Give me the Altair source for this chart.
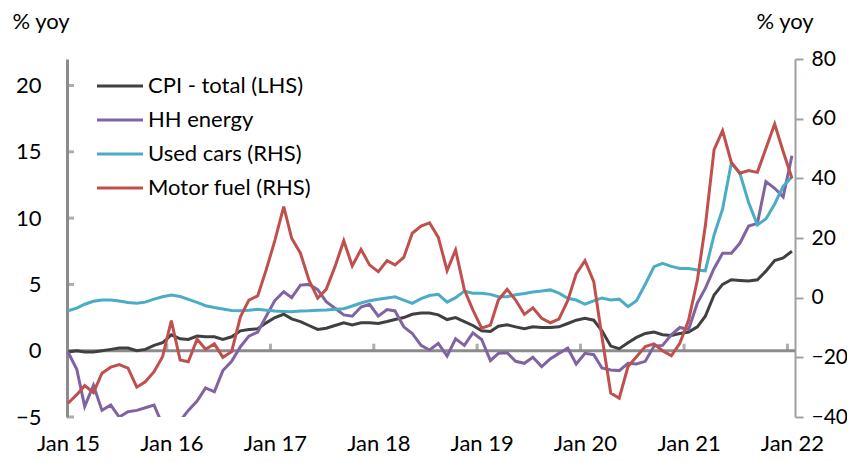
import altair as alt
import pandas as pd

# Monthly observations, Jan 2015 - Jan 2022
months = pd.date_range("2015-01-01", "2022-01-01", freq="MS").strftime("%Y-%m-%dT00:00:00").tolist()

cpi_total = [
    -0.1, 0.0, -0.1, -0.1, 0.0, 0.1, 0.2, 0.2, 0.0, 0.1, 0.4, 0.6,
    1.2, 0.9, 0.85, 1.1, 1.05, 1.05, 0.85, 1.05, 1.5, 1.6, 1.65, 2.1,
    2.5, 2.75, 2.4, 2.2, 1.9, 1.6, 1.7, 1.9, 2.1, 1.95, 2.1, 2.1,
    2.05, 2.2, 2.35, 2.5, 2.75, 2.85, 2.85, 2.7, 2.35, 2.5, 2.2, 1.9,
    1.5, 1.45, 1.85, 1.95, 1.8, 1.65, 1.8, 1.75, 1.75, 1.8, 2.05, 2.3,
    2.45, 2.3, 1.5, 0.35, 0.15, 0.6, 1.0, 1.3, 1.4, 1.2, 1.15, 1.3,
    1.4, 1.8, 2.6, 4.2, 5.0, 5.35, 5.3, 5.25, 5.35, 6.0, 6.8, 7.0,
    7.5,
]
hh_energy = [
    -0.1, -1.4, -4.2, -2.6, -4.5, -4.1, -5.0, -4.6, -4.5, -4.3, -4.1, -5.6,
    -7.0, -5.3, -4.5, -3.8, -2.8, -3.1, -1.5, -0.8, 0.3, 1.1, 1.4, 2.6,
    3.8, 4.45, 4.0, 4.95, 5.0, 4.6, 3.7, 3.2, 2.7, 2.6, 3.3, 3.5,
    2.6, 3.1, 3.0, 1.8, 1.3, 0.4, 0.05, 0.55, -0.4, 0.9, 0.4, 1.35,
    0.85, -0.75, -0.2, -0.15, -0.8, -0.95, -0.5, -1.2, -0.6, -0.2, 0.2, -1.0,
    -0.2, -0.3, -1.3, -1.45, -1.5, -0.95, -1.0, -0.8, 0.35, 0.4, 1.2, 1.75,
    1.6, 3.6, 4.7, 6.2, 7.35, 7.35, 8.1, 9.4, 9.6, 12.75, 12.25, 11.6,
    14.7,
]
used_cars = [
    -4.4, -3.5, -2.2, -1.2, -0.8, -0.8, -1.1, -1.6, -1.9, -1.5, -0.5, 0.3,
    0.9, 0.4, -0.6, -1.6, -2.7, -3.3, -3.8, -4.3, -4.4, -4.2, -3.9, -4.2,
    -4.5, -4.6, -4.7, -4.5, -4.4, -4.2, -4.1, -3.9, -3.7, -2.8, -1.8, -1.0,
    -0.5, -0.1, 0.3, -0.8, -1.9, -0.3, 0.7, 1.1, -1.5, 0.0, 2.2, 1.5,
    1.5, 1.1, 0.3, 0.3, 1.0, 1.4, 1.9, 2.2, 2.6, 1.5, -0.2, -0.8,
    -2.2, -1.1, -0.1, -0.8, -0.5, -3.0, -1.0, 4.5, 10.4, 11.5, 10.5, 9.8,
    9.8, 9.3, 9.0, 21.0, 29.7, 45.2, 41.7, 31.9, 24.4, 26.4, 31.4, 37.3,
    40.5,
]
motor_fuel = [
    -35.4, -32.5, -29.5, -31.8, -25.3, -23.3, -22.4, -23.6, -30.0, -28.2, -24.8, -19.8,
    -7.7, -20.9, -21.5, -13.9, -17.3, -15.5, -20.0, -18.1, -6.4, -0.8, 0.6, 9.3,
    19.3, 30.5, 19.9, 14.9, 5.9, -0.2, 2.8, 10.4, 19.1, 10.6, 16.2, 11.0,
    8.7, 12.4, 11.0, 13.5, 21.6, 24.0, 25.1, 20.2, 9.1, 16.0, 2.6, -4.1,
    -10.2, -9.2, -0.8, 2.8, -0.8, -5.6, -3.4, -6.9, -8.4, -7.2, -1.0, 8.0,
    12.4, 5.4, -13.2, -32.0, -33.7, -23.1, -19.8, -16.4, -15.5, -17.8, -19.5, -15.3,
    -7.5, 5.9, 24.0, 49.6, 56.0, 45.3, 41.7, 42.6, 42.0, 50.0, 58.2, 49.0,
    40.0,
]

series_names = ["CPI - total (LHS)", "HH energy", "Used cars (RHS)", "Motor fuel (RHS)"]
series_colors = ["#404040", "#8064a2", "#4bacc6", "#c0504d"]
left_ticks = [-5, 0, 5, 10, 15, 20]
right_ticks = [-40, -20, 0, 20, 40, 60, 80]
years = list(range(2015, 2023))
year_ticks = [f"{y}-01-01T00:00:00" for y in years[1:]]

FONT = "Lato"
AXIS_GRAY = "#8c8c8c"
AXIS_GRAY2 = "#a0a0a0"

x_scale = alt.Scale(domain=[alt.DateTime(year=2014, month=12, date=28, hours=12),
                            alt.DateTime(year=2022, month=1, date=11, hours=19)])
y_left_scale = alt.Scale(domain=[-5, 22], nice=False, zero=False)
y_right_scale = alt.Scale(domain=[-40, 80], nice=False, zero=False)

x_axis = alt.Axis(values=[alt.DateTime(year=y, month=1, date=1) for y in years],
                  format="%b %y", domain=False, ticks=False, grid=False,
                  labelFontSize=22, labelPadding=16, labelFlush=False,
                  labelOverlap=False, labelColor="black", title=None)

left_axis = alt.Axis(values=left_ticks, domain=True, domainColor=AXIS_GRAY, domainWidth=3,
                     ticks=False, grid=False, labelFontSize=22, labelPadding=26,
                     labelColor="black", title="% yoy", titleAngle=0, titleAlign="left",
                     titleBaseline="alphabetic", titleX=-55, titleY=-31, titleFontSize=22,
                     titleFontWeight="normal", titleColor="black")

right_axis = alt.Axis(orient="right", values=right_ticks, domain=True, domainColor=AXIS_GRAY2,
                      domainWidth=2, ticks=True, tickColor=AXIS_GRAY2, tickWidth=2, tickSize=8,
                      grid=False, labelFontSize=21, labelPadding=8, labelColor="black",
                      title="% yoy", titleAngle=0, titleAlign="left", titleBaseline="alphabetic",
                      titleX=-39, titleY=-31, titleFontSize=22, titleFontWeight="normal",
                      titleColor="black")

color_enc = alt.Color(
    "series:N",
    scale=alt.Scale(domain=series_names, range=series_colors),
    legend=alt.Legend(orient="none", legendX=40, legendY=14, title=None, padding=0,
                      symbolType="M-2,0H2", symbolSize=529, symbolStrokeWidth=3,
                      labelFontSize=22, labelOffset=15, rowPadding=10, labelLimit=0,
                      labelColor="black"),
)


def series_df(name, values):
    return pd.DataFrame({"date": months, "value": values, "series": [name] * len(values)})


def line_layer(name, values, y_scale, y_axis):
    return alt.Chart(series_df(name, values)).mark_line(strokeWidth=3, clip=True).encode(
        x=alt.X("date:T", scale=x_scale, axis=x_axis),
        y=alt.Y("value:Q", scale=y_scale, axis=y_axis),
        color=color_enc,
    )


start_dt = alt.DateTime(year=2014, month=12, date=28, hours=12)

zero_rule = alt.Chart(pd.DataFrame({"z": [0]})).mark_rule(color=AXIS_GRAY, strokeWidth=3).encode(
    y=alt.Y("z:Q", scale=y_left_scale, axis=left_axis)
)
x_ticks = alt.Chart(pd.DataFrame({"date": year_ticks, "z": [0] * len(year_ticks)})).mark_tick(
    orient="vertical", size=7, thickness=3, yOffset=-3.5, xOffset=-4.5, color=AXIS_GRAY
).encode(
    x=alt.X("date:T", scale=x_scale, axis=x_axis),
    y=alt.Y("z:Q", scale=y_left_scale, axis=left_axis),
)
y_ticks = alt.Chart(pd.DataFrame({"v": left_ticks})).mark_tick(
    orient="horizontal", size=7, thickness=3, xOffset=3.5, color=AXIS_GRAY
).encode(
    x=alt.X(datum=start_dt, type="temporal", scale=x_scale, axis=x_axis),
    y=alt.Y("v:Q", scale=y_left_scale, axis=left_axis),
)

left_group = alt.layer(
    zero_rule, x_ticks, y_ticks,
    line_layer(series_names[0], cpi_total, y_left_scale, left_axis),
    line_layer(series_names[1], hh_energy, y_left_scale, left_axis),
)
right_group = alt.layer(
    line_layer(series_names[2], used_cars, y_right_scale, right_axis),
    line_layer(series_names[3], motor_fuel, y_right_scale, right_axis),
)

chart = alt.layer(left_group, right_group).resolve_scale(y="independent").properties(
    width=728, height=358,
    padding={"left": 59, "top": 51, "right": 52, "bottom": 37},
    autosize=alt.AutoSizeParams(type="none"),
).configure(font=FONT).configure_view(stroke=None).configure_axis(
    labelFont=FONT, titleFont=FONT
).configure_legend(labelFont=FONT)

chart.save("out.html", embed_options={"renderer": "svg", "actions": False})
